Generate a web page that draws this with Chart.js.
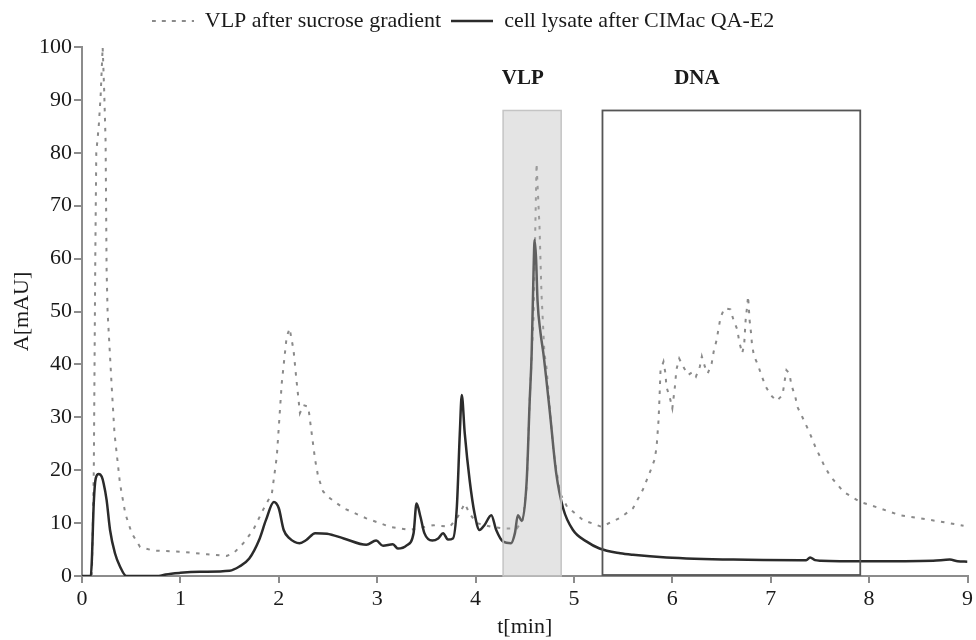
<!DOCTYPE html>
<html>
<head>
<meta charset="utf-8">
<script src="https://cdn.jsdelivr.net/npm/chart.js@4"></script>
<style>
  html, body { margin: 0; padding: 0; background: #ffffff; }
  #wrap { position: relative; width: 976px; height: 640px; }
</style>
</head>
<body>
<div id="wrap"><canvas id="c" width="976" height="640"></canvas></div>
<script>
// ---------- data ----------
const seriesNames = ['VLP after sucrose gradient', 'cell lysate after CIMac QA-E2'];

// dotted series: VLP after sucrose gradient
const tVLP = [0, 0.1, 0.12, 0.135, 0.145, 0.17, 0.19, 0.21, 0.225, 0.24, 0.245, 0.25, 0.26, 0.30, 0.33, 0.386, 0.44, 0.505, 0.59, 0.725,
  1.0, 1.27, 1.47, 1.54, 1.64, 1.74, 1.84, 1.93, 1.98, 2.03, 2.08, 2.11, 2.15, 2.18, 2.215, 2.25, 2.30, 2.33, 2.37, 2.40, 2.45, 2.52,
  2.66, 2.89, 3.13, 3.33, 3.57, 3.74, 3.82, 3.89, 3.94, 4.01, 4.16, 4.28, 4.42, 4.48, 4.52, 4.55, 4.59, 4.62, 4.65, 4.67, 4.70, 4.72,
  4.79, 4.86, 4.93, 5.09, 5.28, 5.47, 5.60, 5.70, 5.78, 5.82, 5.84, 5.86, 5.87, 5.88, 5.91, 5.93, 5.94, 5.98, 6.00, 6.03, 6.04, 6.07,
  6.11, 6.16, 6.21, 6.24, 6.28, 6.30, 6.33, 6.36, 6.40, 6.42, 6.45, 6.47, 6.49, 6.53, 6.59, 6.62, 6.66, 6.68, 6.71, 6.73, 6.745, 6.76,
  6.77, 6.785, 6.80, 6.81, 6.83, 6.87, 6.91, 6.95, 7.00, 7.06, 7.12, 7.14, 7.16, 7.19, 7.21, 7.25, 7.27, 7.32, 7.37, 7.42, 7.46, 7.50,
  7.54, 7.60, 7.74, 7.91, 8.11, 8.31, 8.52, 8.72, 8.96];
const aVLP = [0, 0, 20, 60, 80, 85, 91, 100, 92, 82, 70, 58, 50, 36.4, 27, 17.5, 11.8, 8.1, 5.5, 4.8,
  4.6, 4.1, 3.8, 4.3, 6.2, 8.7, 12.5, 15.6, 22.6, 36.4, 45.2, 46.8, 42.7, 37, 30.8, 32.3, 32, 27.6, 21.9, 18.8, 16, 14.7,
  12.8, 10.9, 9.3, 8.7, 9.6, 9.3, 11.2, 13.7, 11.8, 10, 9.3, 9.0, 9.0, 10.6, 16.9, 33.3, 49, 78, 66, 53.4, 42.1, 39.6,
  23.8, 15.6, 13.1, 10.6, 9.3, 11, 12.8, 16.3, 20, 22, 24.4, 29.5, 33.9, 38.9, 40.5, 38.3, 35.8, 33.3, 31.7, 36.4, 38.9, 41.1,
  39.6, 38, 38.6, 37.7, 39.6, 41.5, 39.6, 38.3, 40.2, 42.4, 44.6, 46.8, 48.9, 50.6, 50.4, 48.5, 46.6, 44.3, 42.1, 43.7, 48.4, 50.9,
  52.9, 48.4, 45.9, 43.7, 41.6, 39.9, 37.7, 35.8, 34.2, 33.1, 34.2, 36.7, 38.9, 38.3, 36.1, 33.9, 32, 30.1, 28.1, 26, 24.1, 22.6,
  21, 19, 15.9, 14.0, 12.8, 11.5, 10.9, 10.3, 9.5];

// solid series: cell lysate after CIMac QA-E2
const tLysate = [0, 0.09, 0.1, 0.12, 0.14, 0.17, 0.2, 0.22, 0.25, 0.285, 0.335, 0.386, 0.45, 0.78, 0.85, 1.0, 1.2, 1.5, 1.6, 1.7,
  1.8, 1.87, 1.95, 2.0, 2.05, 2.11, 2.21, 2.28, 2.37, 2.49, 2.66, 2.89, 2.99, 3.06, 3.16, 3.21, 3.30, 3.37, 3.40, 3.44, 3.48,
  3.56, 3.62, 3.67, 3.72, 3.77, 3.81, 3.84, 3.86, 3.89, 3.94, 3.99, 4.04, 4.09, 4.16, 4.21, 4.28, 4.36, 4.40, 4.43, 4.47, 4.52,
  4.55, 4.57, 4.59, 4.60, 4.615, 4.63, 4.66, 4.69, 4.76, 4.82, 4.89, 4.99, 5.13, 5.26, 5.47, 5.60, 5.94, 6.62, 7.30, 7.36, 7.40,
  7.45, 7.51, 7.97, 8.65, 8.82, 8.9, 9.0];
const aLysate = [0, 0, 3, 14, 18.5, 19.3, 18.8, 17.5, 14.4, 8.7, 4.3, 1.8, 0, 0, 0.3, 0.6, 0.8, 1.0, 1.8, 3.3,
  6.8, 10.6, 14.0, 12.8, 8.7, 7.1, 6.2, 6.8, 8.1, 8.0, 7.1, 5.9, 6.7, 5.7, 6.0, 5.2, 5.8, 8.1, 13.7, 11.2, 8.1,
  6.7, 7.1, 8.1, 6.9, 7.1, 13.1, 27, 34.2, 27, 18.1, 11.8, 8.7, 9.6, 11.5, 8.7, 6.5, 6.2, 8.1, 11.5, 10.4, 18.1,
  33, 42, 58, 63.5, 60, 52, 46, 42, 30.1, 19.4, 12.8, 8.7, 6.5, 5.2, 4.3, 4.0, 3.5, 3.1, 3.0, 3.0, 3.5,
  3.0, 2.9, 2.8, 2.9, 3.1, 2.8, 2.7];

const xTicks = [0, 1, 2, 3, 4, 5, 6, 7, 8, 9];
const yTicks = [0, 10, 20, 30, 40, 50, 60, 70, 80, 90, 100];
const xTitle = 't[min]';
const yTitle = 'A[mAU]';

// marked regions (data units)
const regionNames = ['VLP', 'DNA'];
const regionStart = [4.28, 5.29];
const regionEnd = [4.87, 7.91];
const regionTop = [88, 88];
const regionLabelX = [4.48, 6.25];
const regionLabelY = [94, 94];

// ---------- chart ----------
const FONT = "'Liberation Serif', 'Times New Roman', serif";
const toPoints = (ts, as) => ts.map((t, i) => ({ x: t, y: as[i] }));

function legendSample(dash, color, width) {
  const c = document.createElement('canvas');
  c.width = 42; c.height = 6;
  const g = c.getContext('2d');
  g.strokeStyle = color;
  g.lineWidth = width;
  g.setLineDash(dash);
  g.beginPath();
  g.moveTo(0, 3);
  g.lineTo(42, 3);
  g.stroke();
  return c;
}

const regionsPlugin = {
  id: 'regions',
  afterLayout(chart) {
    const lg = chart.legend;
    if (lg) { lg.left -= 21; lg.right -= 21; lg.top -= 5; lg.bottom -= 5; }
  },
  afterDatasetsDraw(chart) {
    const { ctx, scales: { x, y } } = chart;
    ctx.save();
    {
      const x0 = x.getPixelForValue(regionStart[0]);
      const x1 = x.getPixelForValue(regionEnd[0]);
      const y0 = y.getPixelForValue(regionTop[0]);
      const yb = y.getPixelForValue(0);
      ctx.fillStyle = 'rgba(185,185,185,0.38)';
      ctx.fillRect(x0, y0, x1 - x0, yb - y0);
      ctx.strokeStyle = '#c4c4c4';
      ctx.lineWidth = 1.5;
      ctx.strokeRect(x0, y0, x1 - x0, yb - y0);
    }
    {
      const x0 = x.getPixelForValue(regionStart[1]);
      const x1 = x.getPixelForValue(regionEnd[1]);
      const y0 = y.getPixelForValue(regionTop[1]);
      const yb = y.getPixelForValue(0) - 1;
      ctx.strokeStyle = '#555555';
      ctx.lineWidth = 1.8;
      ctx.strokeRect(x0, y0, x1 - x0, yb - y0);
    }
    ctx.fillStyle = '#1a1a1a';
    ctx.font = 'bold 21px ' + FONT;
    ctx.textAlign = 'center';
    ctx.textBaseline = 'middle';
    regionNames.forEach((n, i) => {
      ctx.fillText(n, x.getPixelForValue(regionLabelX[i]), y.getPixelForValue(regionLabelY[i]));
    });
    ctx.restore();
  }
};

Chart.defaults.font.family = FONT;
Chart.defaults.font.size = 22;
Chart.defaults.color = '#1a1a1a';

new Chart(document.getElementById('c'), {
  type: 'line',
  data: {
    datasets: [
      {
        label: seriesNames[0],
        data: toPoints(tVLP, aVLP),
        borderColor: '#8a8a8a',
        backgroundColor: '#8a8a8a',
        borderWidth: 2,
        borderDash: [3.5, 6.5],
        pointRadius: 0,
        pointStyle: legendSample([4, 6], '#8a8a8a', 2),
        fill: false,
        tension: 0,
        order: 1
      },
      {
        label: seriesNames[1],
        data: toPoints(tLysate, aLysate),
        borderColor: '#2b2b2b',
        backgroundColor: '#2b2b2b',
        borderWidth: 2.5,
        pointRadius: 0,
        pointStyle: legendSample([], '#2b2b2b', 2.5),
        fill: false,
        cubicInterpolationMode: 'monotone',
        order: 0
      }
    ]
  },
  options: {
    responsive: false,
    animation: false,
    devicePixelRatio: 1,
    layout: { padding: { top: 5, right: 8, bottom: 0, left: 0 } },
    plugins: {
      legend: {
        display: true,
        position: 'top',
        align: 'center',
        reverse: true,
        labels: {
          usePointStyle: true,
          pointStyleWidth: 42,
          padding: 10,
          color: '#1a1a1a',
          font: { size: 22, family: FONT }
        }
      },
      tooltip: { enabled: false }
    },
    scales: {
      x: {
        type: 'linear',
        min: 0, max: 9,
        afterBuildTicks: s => { s.ticks = xTicks.map(v => ({ value: v })); },
        afterFit: s => { s.height = 64; },
        border: { display: true, color: '#8c8c8c', width: 2 },
        grid: { drawOnChartArea: false, drawTicks: true, tickLength: 7, color: '#8c8c8c', lineWidth: 2 },
        ticks: { padding: 3, color: '#1a1a1a', font: { size: 22 }, maxRotation: 0 },
        title: { display: true, text: xTitle, color: '#1a1a1a', font: { size: 22 }, padding: { top: 0, bottom: 0 } }
      },
      y: {
        type: 'linear',
        min: 0, max: 100,
        afterBuildTicks: s => { s.ticks = yTicks.map(v => ({ value: v })); },
        afterFit: s => { s.width = 82; },
        border: { display: true, color: '#8c8c8c', width: 2 },
        grid: { drawOnChartArea: false, drawTicks: true, tickLength: 8, color: '#8c8c8c', lineWidth: 2 },
        ticks: { padding: 2, color: '#1a1a1a', font: { size: 22 } },
        title: { display: true, text: yTitle, color: '#1a1a1a', font: { size: 22 }, padding: { top: 9, bottom: 0 } }
      }
    }
  },
  plugins: [regionsPlugin]
});
</script>
</body>
</html>
